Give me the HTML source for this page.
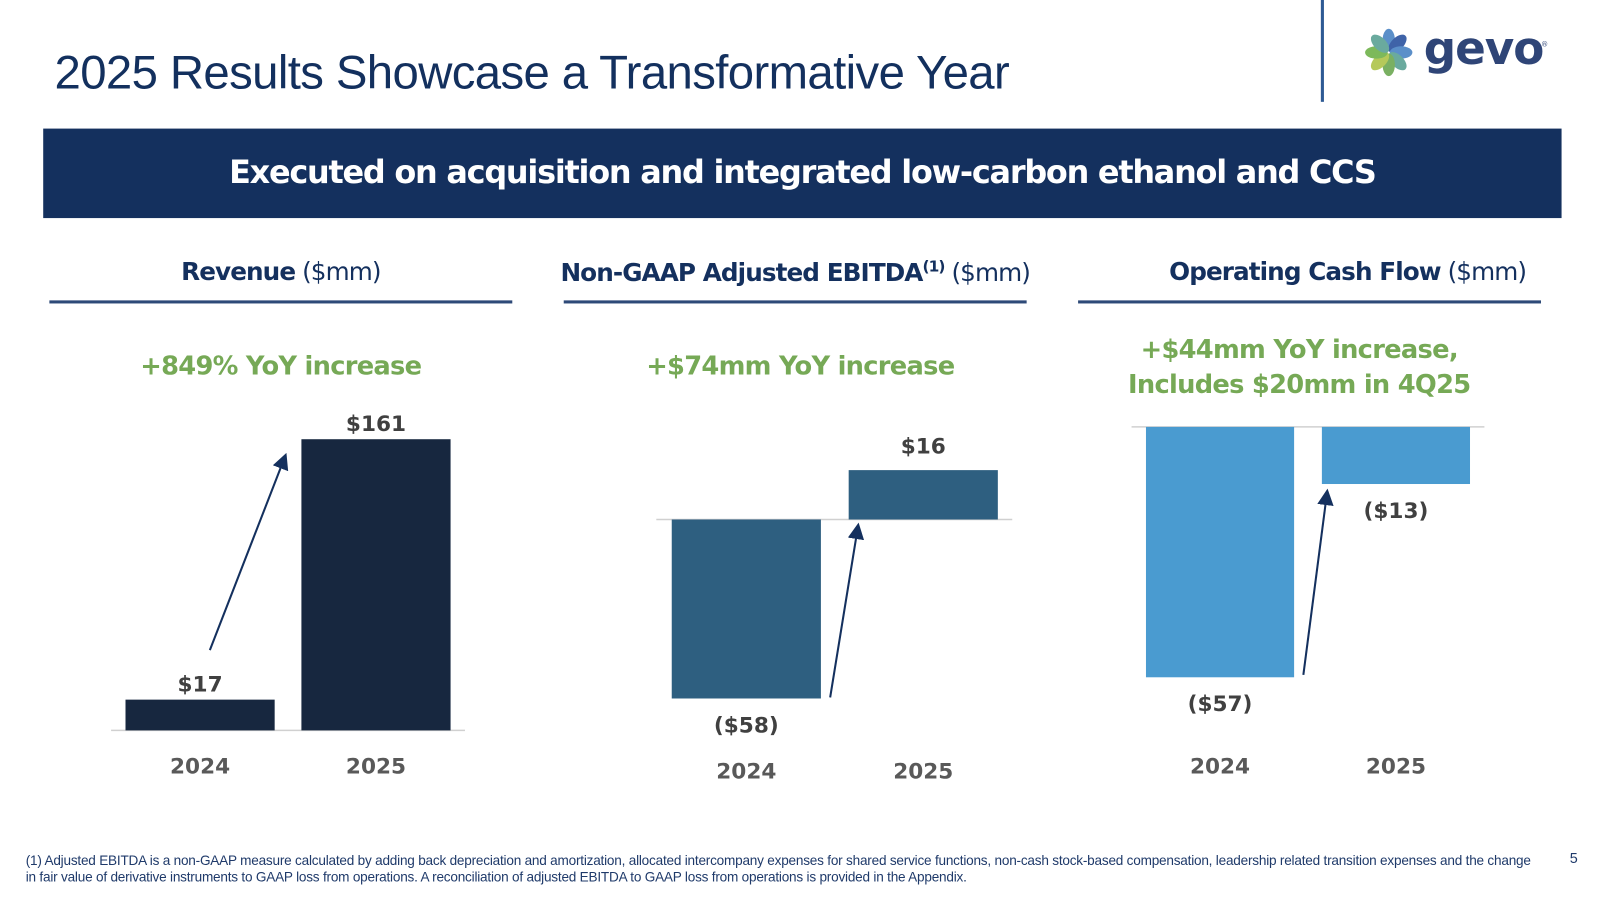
<!DOCTYPE html>
<html><head><meta charset="utf-8"><style>
html,body{margin:0;padding:0;background:#fff;width:1612px;height:906px;overflow:hidden}
#wrap{position:absolute;left:0;top:0;width:1567px;height:881px;transform:scale(1.0287);transform-origin:0 0;font-family:"DejaVu Sans","Liberation Sans",sans-serif}
.abs{position:absolute}
#title{left:53px;top:43px;font-family:"Liberation Sans",sans-serif;font-size:46px;color:#13305E;letter-spacing:-0.6px;white-space:nowrap}
#banner{left:42px;top:125px;width:1476px;height:87px;background:#14305E;color:#fff;font-weight:bold;font-size:31px;text-align:center;line-height:86px;letter-spacing:-1.2px;white-space:nowrap}
.hdr{top:250px;width:450px;text-align:center;font-size:24px;color:#14305E;letter-spacing:-0.9px;white-space:nowrap}
.hdr b{font-weight:bold}
.rule{top:292px;width:450px;height:3px;background:#2E4A78}
.green{color:#76A956;font-weight:bold;font-size:25px;text-align:center;width:450px;letter-spacing:-0.7px;white-space:nowrap}
#foot{left:25px;top:829px;font-size:13.2px;color:#1F3A6A;font-family:"Liberation Sans",sans-serif;line-height:16px;letter-spacing:-0.2px;white-space:nowrap}
</style></head><body>
<div id="wrap">
<div id="title" class="abs">2025 Results Showcase a Transformative Year</div>
<div class="abs" style="left:1284px;top:0;width:3px;height:99px;background:#2E5A94"></div>
<svg class="abs" style="left:1322px;top:25px" width="190" height="55">
<g transform="translate(28,26)">
<ellipse cx="0" cy="-12" rx="6" ry="11" fill="#5B8FC9" transform="rotate(0)"/>
<ellipse cx="0" cy="-12" rx="6" ry="11" fill="#3F63A8" transform="rotate(45)"/>
<ellipse cx="0" cy="-12" rx="6" ry="11" fill="#5B8FC9" transform="rotate(90)"/>
<ellipse cx="0" cy="-12" rx="6" ry="11" fill="#6AAA9E" transform="rotate(135)"/>
<ellipse cx="0" cy="-12" rx="6" ry="11" fill="#7AB062" transform="rotate(180)"/>
<ellipse cx="0" cy="-12" rx="6" ry="11" fill="#B5C95A" transform="rotate(225)"/>
<ellipse cx="0" cy="-12" rx="6" ry="11" fill="#7DB95B" transform="rotate(270)"/>
<ellipse cx="0" cy="-12" rx="6" ry="11" fill="#6AAA9E" transform="rotate(315)"/>
</g>
<text x="62" y="37" font-family="DejaVu Sans,sans-serif" font-weight="bold" font-size="44" fill="#2F4577" letter-spacing="-1">gevo</text>
<text x="176" y="20" font-size="7" fill="#2F4577">®</text>
</svg>
<div id="banner" class="abs">Executed on acquisition and integrated low-carbon ethanol and CCS</div>

<div class="abs hdr" style="left:48px"><b>Revenue</b> ($mm)</div>
<div class="abs hdr" style="left:536px;width:474px"><b>Non-GAAP Adjusted EBITDA<sup style="font-size:15px">(1)</sup></b> ($mm)</div>
<div class="abs hdr" style="left:1085px;width:450px"><b>Operating Cash Flow</b> ($mm)</div>
<div class="abs rule" style="left:48px"></div>
<div class="abs rule" style="left:548px"></div>
<div class="abs rule" style="left:1048px"></div>

<div class="abs green" style="left:48px;top:341px">+849% YoY increase</div>
<div class="abs green" style="left:553px;top:341px">+$74mm YoY increase</div>
<div class="abs green" style="left:1038px;top:323px;line-height:34px">+$44mm YoY increase,<br>Includes $20mm in 4Q25</div>

<svg id="charts" class="abs" style="left:0;top:0" width="1567" height="881">
<defs><marker id="ah" markerWidth="8" markerHeight="8" refX="6" refY="4" orient="auto"><path d="M0,0 L8,4 L0,8 z" fill="#14305E"/></marker></defs>
</svg>

<div id="foot" class="abs">(1) Adjusted EBITDA is a non-GAAP measure calculated by adding back depreciation and amortization, allocated intercompany expenses for shared service functions, non-cash stock-based compensation, leadership related transition expenses and the change<br>in fair value of derivative instruments to GAAP loss from operations. A reconciliation of adjusted EBITDA to GAAP loss from operations is provided in the Appendix.</div>
<div class="abs" style="left:1526px;top:826px;font-size:14px;color:#1F3A6A;font-family:'Liberation Sans',sans-serif">5</div>
</div>
<script>
const categories = ["2024","2025"];
const revenueValues = [17,161];
const revenueLabels = ["$17","$161"];
const ebitdaValues = [-58,16];
const ebitdaLabels = ["($58)","$16"];
const ocfValues = [-57,-13];
const ocfLabels = ["($57)","($13)"];

const svg = document.getElementById('charts');
const NS = 'http://www.w3.org/2000/svg';
function mk(tag, attrs){const e=document.createElementNS(NS,tag);for(const k in attrs)e.setAttribute(k,attrs[k]);svg.appendChild(e);return e;}

function drawChart(cfg){
  const y = v => cfg.base - v*cfg.scale;
  const x = i => cfg.x0 + i*cfg.step;
  const ln = mk('line',{x1:cfg.lx1,x2:cfg.lx2,y1:cfg.base,y2:cfg.base,stroke:'#D0D0D0','stroke-width':1.5});
  
  
  cfg.values.forEach((v,i)=>{
    const top=Math.min(y(v),cfg.base), h=Math.abs(y(v)-cfg.base);
    const r = mk('rect',{x:x(i),y:top,width:cfg.bw,height:h,fill:cfg.color});
    
    
    const ly = v>=0 ? y(v)-cfg.posGap : y(v)+33;
    const t = mk('text',{x:x(i)+cfg.bw/2,y:ly,'text-anchor':'middle','font-size':21,'font-weight':'bold',fill:'#404040','font-family':'DejaVu Sans,sans-serif'});
    t.textContent = cfg.labels[i];
    
    
    const c = mk('text',{x:x(i)+cfg.bw/2,y:cfg.catY,'text-anchor':'middle','font-size':21,'font-weight':'bold',fill:'#595959','font-family':'DejaVu Sans,sans-serif'});
    c.textContent = categories[i];
    
    
  });
  const a = mk('line',{x1:cfg.ar[0],y1:cfg.ar[1],x2:cfg.ar[2],y2:cfg.ar[3],stroke:'#14305E','stroke-width':2,'marker-end':'url(#ah)'});
  
  
}
drawChart({name:'revenue',values:revenueValues,labels:revenueLabels,posGap:8,base:710,scale:1.758,x0:122,step:171,bw:145,lx1:108,lx2:452,color:'#17273F',catY:752,ar:[204,632,277,444]});
drawChart({name:'ebitda',values:ebitdaValues,labels:ebitdaLabels,posGap:16,base:505,scale:3.0,x0:653,step:172,bw:145,lx1:638,lx2:984,color:'#2E5F80',catY:757,ar:[807,678,834,512]});
drawChart({name:'ocf',values:ocfValues,labels:ocfLabels,posGap:8,base:415,scale:4.27,x0:1114,step:171,bw:144,lx1:1100,lx2:1443,color:'#4A9BD0',catY:752,ar:[1267,656,1290,479]});
</script>
</body></html>
